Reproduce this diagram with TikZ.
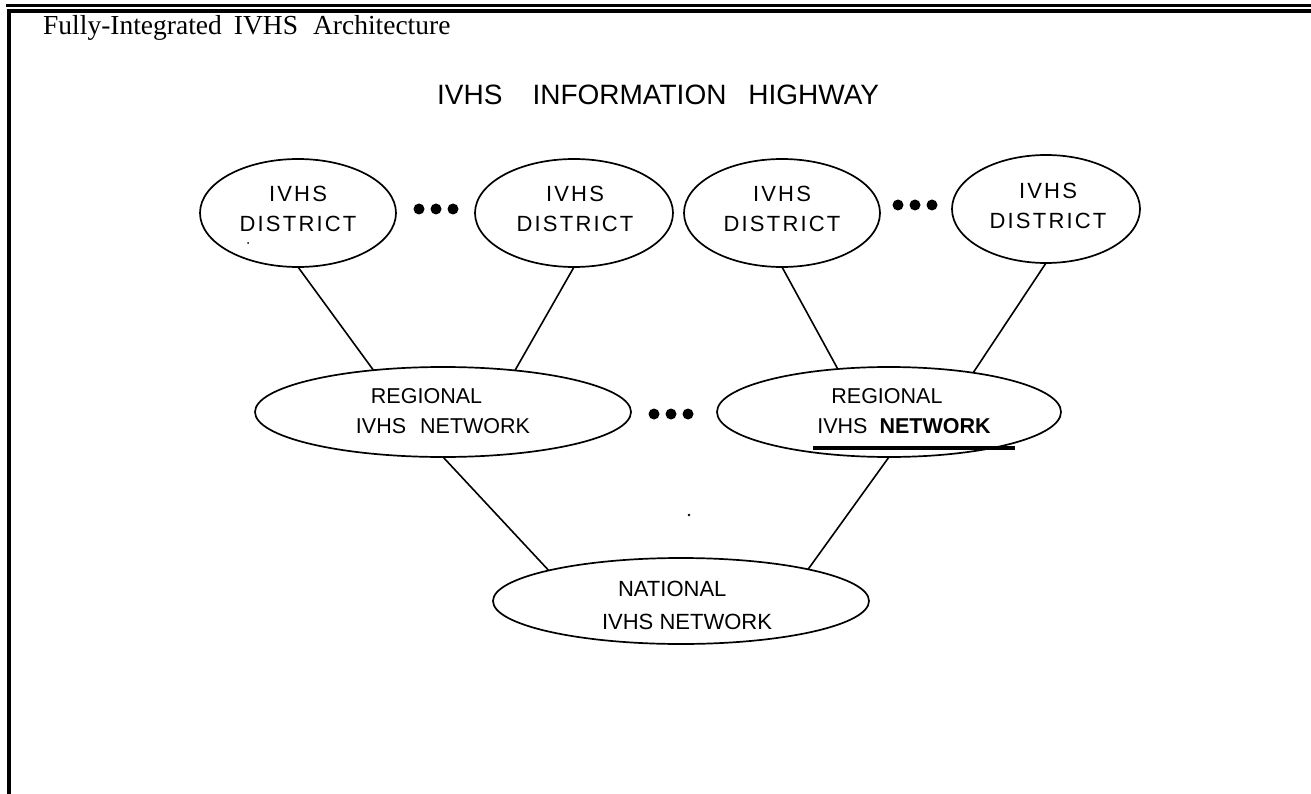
\documentclass[tikz,border=0pt]{standalone}
\usepackage{fontspec}
\setmainfont{Liberation Serif}
\newfontfamily\labelsans{Liberation Sans}
\newfontfamily\spacedsans[LetterSpace=10]{Liberation Sans}
\usetikzlibrary{shapes.geometric}

\begin{document}
\begin{tikzpicture}[x=1pt,y=-1pt,
  oval/.style={draw,ellipse,line width=1.7pt,inner sep=0pt,outer sep=0pt},
  link/.style={line width=1.6pt},
  districttext/.style={inner sep=0pt,align=center,font=\spacedsans\fontsize{22}{30}\selectfont},
  nettext/.style={inner sep=0pt,align=left,font=\labelsans\fontsize{21.5}{30}\selectfont},
  dot/.style={fill,circle,inner sep=0pt,minimum size=11pt}
]
\useasboundingbox (0,0) rectangle (1311,794);

% page frame: double rule on top, single rule on the left
\draw[line width=3pt] (6,5.5) -- (1311,5.5);
\draw[line width=4pt] (7,11) -- (1311,11);
\draw[line width=4pt] (9,9) -- (9,794);

% headings
\node[anchor=base west,inner sep=0pt,font=\fontsize{27.5}{27.5}\selectfont] (title) at (43,35)
  {Fully-Integrated\hspace{12pt}IVHS\hspace{15pt}Architecture};
\node[anchor=base west,inner sep=0pt,font=\labelsans\fontsize{28}{28}\selectfont] (highway) at (437,105)
  {IVHS\hspace{30pt}INFORMATION\hspace{22pt}HIGHWAY};

% district level
\node[oval,minimum width=196pt,minimum height=108pt] (d1) at (298,213) {};
\node[oval,minimum width=198pt,minimum height=108pt] (d2) at (574,213) {};
\node[oval,minimum width=196pt,minimum height=108pt] (d3) at (782,213) {};
\node[oval,minimum width=188pt,minimum height=108pt] (d4) at (1046,209) {};
\node[districttext] (d1t) at (298,209) {IVHS\\DISTRICT};
\node[districttext] (d2t) at (575,209) {IVHS\\DISTRICT};
\node[districttext] (d3t) at (782,209) {IVHS\\DISTRICT};
\node[districttext] (d4t) at (1048,206) {IVHS\\DISTRICT};

% regional level
\node[oval,minimum width=376pt,minimum height=90pt] (r1) at (443,412) {};
\node[oval,minimum width=344pt,minimum height=90pt] (r2) at (889,412) {};
\node[nettext] (r1t) at (443,411.5) {\hspace*{15pt}REGIONAL\\IVHS\hspace{14pt}NETWORK};
\node[nettext] (r2t) at (904,411.5) {\hspace*{14pt}REGIONAL\\IVHS\hspace{12pt}\textbf{NETWORK}};
\draw[line width=3.5pt] (813,448) -- (1015,448);

% national level
\node[oval,minimum width=376pt,minimum height=86pt] (nat) at (681,601) {};
\node[nettext,font=\labelsans\fontsize{22}{33}\selectfont] (natt) at (687,605) {\hspace*{16pt}NATIONAL\\IVHS NETWORK};

% ellipsis marks between sibling nodes
\node[dot] (e1a) at (419,209) {};
\node[dot] (e1b) at (436,209) {};
\node[dot] (e1c) at (453,209) {};
\node[dot] (e2a) at (898,205) {};
\node[dot] (e2b) at (915,205) {};
\node[dot] (e2c) at (932,205) {};
\node[dot] (e3a) at (654,414) {};
\node[dot] (e3b) at (671,414) {};
\node[dot] (e3c) at (688,414) {};

% stray specks
\fill (248,243) circle[radius=1pt];
\fill (689,515) circle[radius=1.3pt];

% links
\draw[link] (d1.south) -- (r1.149);
\draw[link] (d2.south) -- (r1.30);
\draw[link] (d3.south) -- (r2.140);
\draw[link] (d4.south) -- (r2.25);
\draw[link] (r1.south) -- (nat.167);
\draw[link] (r2.south) -- (nat.14);
\end{tikzpicture}
\end{document}
